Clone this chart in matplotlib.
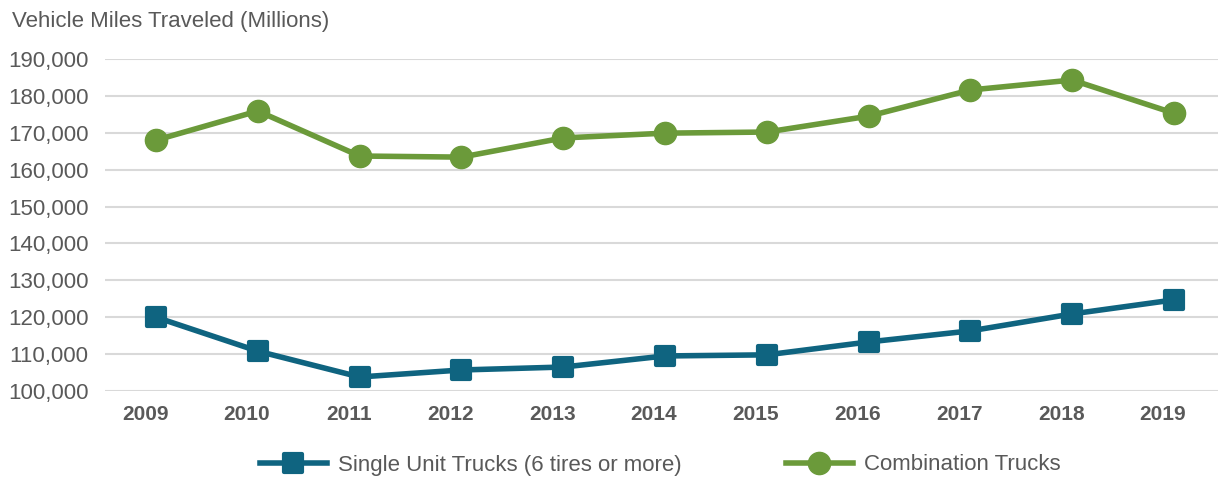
import matplotlib
matplotlib.use('Agg')
import matplotlib.pyplot as plt
from matplotlib.ticker import FuncFormatter
from matplotlib.markers import MarkerStyle
from matplotlib.transforms import ScaledTranslation

# === DATA ===
years = ['2009', '2010', '2011', '2012', '2013', '2014', '2015', '2016', '2017', '2018', '2019']
single_unit = [120000, 110800, 103800, 105700, 106500, 109500, 109800, 113300, 116300, 120900, 124700]
combination = [168000, 175900, 163700, 163400, 168600, 169900, 170200, 174500, 181600, 184300, 175300]

# === STYLE ===
plt.rcParams['font.family'] = ['Liberation Sans Narrow', 'Liberation Sans', 'DejaVu Sans']
TEAL = '#0f6480'
GREEN = '#6b9a3a'
GRAY = '#595959'

fig = plt.figure(figsize=(12.18, 4.78), dpi=100)
ax = fig.add_axes([105 / 1218, 1 - 391 / 478, 1 - 105 / 1218, (391 - 59) / 478])

x = list(range(len(years)))
sq = MarkerStyle('s', joinstyle='round')
ax.plot(x, single_unit, color=TEAL, lw=4, marker=sq, ms=13, mew=3, mec=TEAL,
        label='Single Unit Trucks (6 tires or more)', zorder=3)
ax.plot(x, combination, color=GREEN, lw=4, marker='o', ms=16,
        label='Combination Trucks', zorder=3)

ax.set_ylim(100000, 190000)
ax.set_yticks(range(100000, 190001, 10000))
ax.yaxis.set_major_formatter(FuncFormatter(lambda v, p: f'{int(v):,}'))
ax.set_xlim(-0.501, 10.432)
ax.set_xticks(x)
ax.set_xticklabels(years, fontweight='bold')

ax.grid(True, axis='y', color='#d9d9d9', lw=1.5)
ax.set_axisbelow(True)
for s in ax.spines.values():
    s.set_visible(False)
ax.tick_params(axis='y', length=0, labelsize=16, labelcolor=GRAY, pad=12)
ax.tick_params(axis='x', length=0, labelsize=15, labelcolor=GRAY, pad=10)

# year labels sit a bit left of the markers in the original
shift = ScaledTranslation(-11 / 100, 0, fig.dpi_scale_trans)
for lbl in ax.get_xticklabels():
    lbl.set_transform(lbl.get_transform() + shift)

fig.text(12 / 1218, 1 - 21 / 478, 'Vehicle Miles Traveled (Millions)', fontsize=16,
         color=GRAY, va='center', ha='left')

fig.legend(loc='center', bbox_to_anchor=(0.542, 1 - 465 / 478), ncol=2, frameon=False,
           fontsize=16, labelcolor=GRAY, handlelength=3.0, columnspacing=4.7, handletextpad=0.5)

fig.savefig('out.png', dpi=100, facecolor='white')
